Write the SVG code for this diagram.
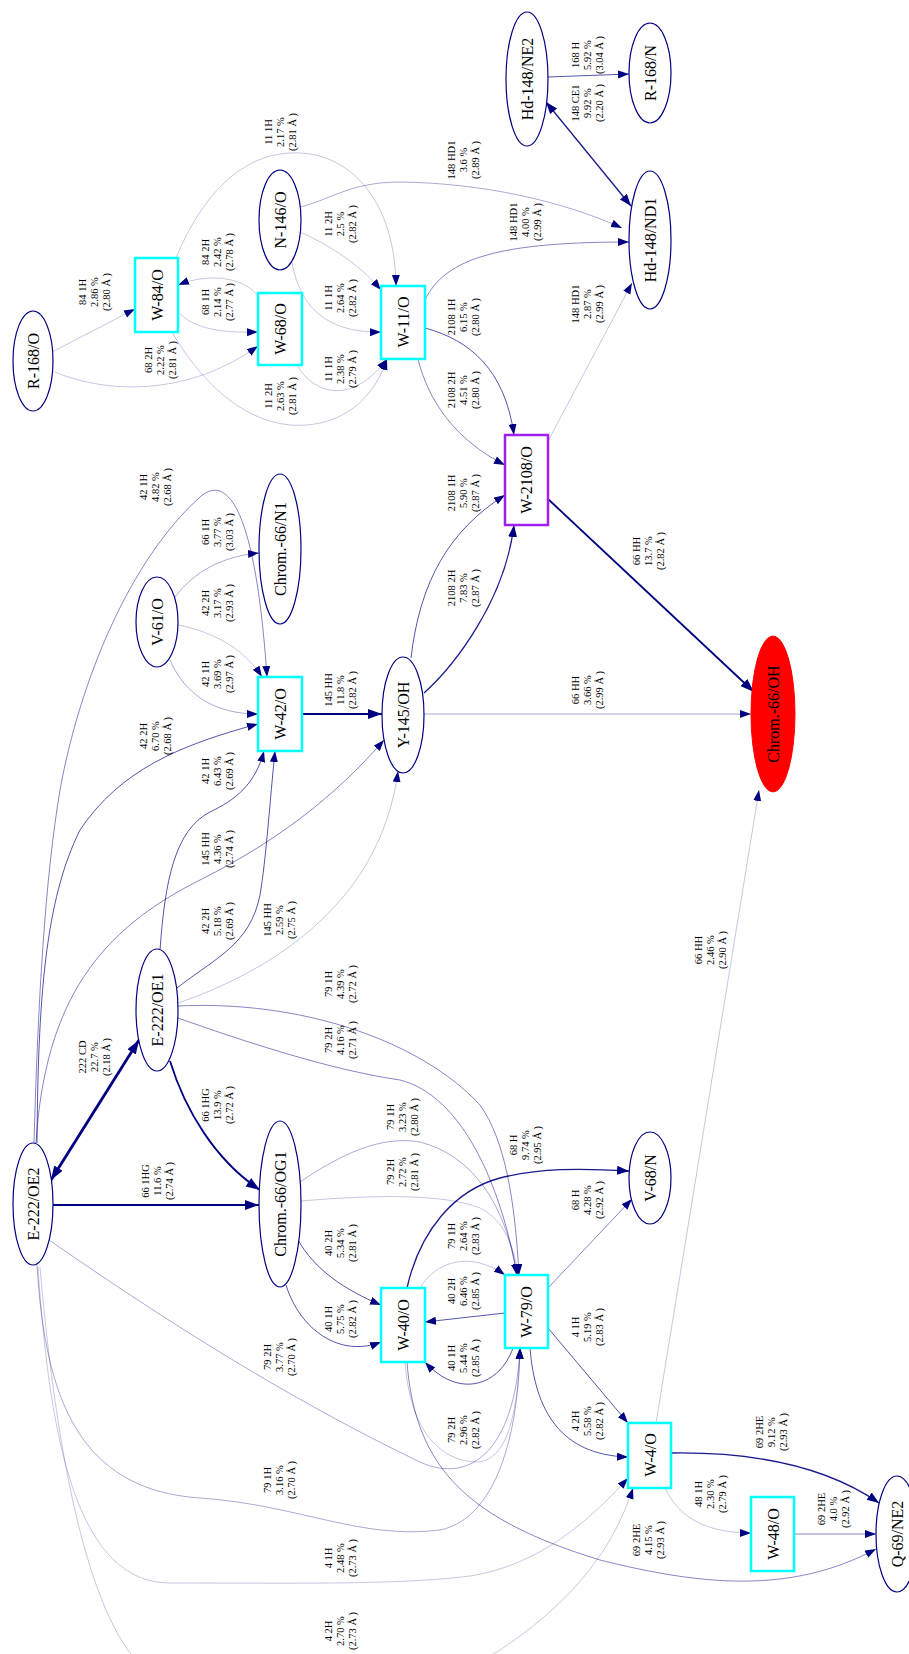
<svg xmlns="http://www.w3.org/2000/svg" width="909" height="1654" viewBox="0 0 909 1654">
<style>
.n{fill:#fff;stroke:#000080;stroke-width:1.2}
.b{fill:#fff;stroke:#00ffff;stroke-width:2.5}
.nt{font-family:"Liberation Serif","Times New Roman",serif;font-size:16px;text-anchor:middle;fill:#000}
.lt{font-family:"Liberation Serif","Times New Roman",serif;font-size:10.5px;text-anchor:middle;fill:#000}
.e{fill:none;stroke:#000080}
.w1{stroke-width:0.7;stroke-opacity:0.32;marker-end:url(#ma)}
.w2{stroke-width:0.75;stroke-opacity:0.45;marker-end:url(#ma)}
.w3{stroke-width:0.8;stroke-opacity:0.6;marker-end:url(#ma)}
.w4{stroke-width:0.9;stroke-opacity:0.75;marker-end:url(#ma)}
.w5{stroke-width:1.3;stroke-opacity:0.9;marker-end:url(#mm)}
.w6{stroke-width:1.8;stroke-opacity:1;marker-end:url(#mb)}
.w7{stroke-width:2.8;stroke-opacity:1;marker-end:url(#mb)}
</style>
<defs>
<marker id="ma" markerUnits="userSpaceOnUse" markerWidth="12" markerHeight="9" refX="11" refY="4" orient="auto"><path d="M0,0 L11,4 L0,8 z" fill="#000080"/></marker>
<marker id="mm" markerUnits="userSpaceOnUse" markerWidth="13" markerHeight="10" refX="12" refY="4.5" orient="auto-start-reverse"><path d="M0,0 L12,4.5 L0,9 z" fill="#000080"/></marker>
<marker id="mb" markerUnits="userSpaceOnUse" markerWidth="15" markerHeight="11" refX="14" refY="5" orient="auto-start-reverse"><path d="M0,0 L14,5 L0,10 z" fill="#000080"/></marker>
</defs>
<rect width="909" height="1654" fill="#fff"/>
<g id="edges">
<g><path class="e w1" d="M52,352 L135,309"/><text class="lt" transform="translate(77,292) rotate(-90)"><tspan x="0" y="8.5">84 1H</tspan><tspan x="0" y="20.8">2.86 %</tspan><tspan x="0" y="33">(2.80 Å )</tspan></text></g>
<g><path class="e w1" d="M55,372 C110,395 190,395 258,346"/><text class="lt" transform="translate(143,360) rotate(-90)"><tspan x="0" y="8.5">68 2H</tspan><tspan x="0" y="20.8">2.22 %</tspan><tspan x="0" y="33">(2.81 Å )</tspan></text></g>
<g><path class="e w1" d="M178,312 C195,330 225,333 258,332"/><text class="lt" transform="translate(200,302) rotate(-90)"><tspan x="0" y="8.5">68 1H</tspan><tspan x="0" y="20.8">2.14 %</tspan><tspan x="0" y="33">(2.77 Å )</tspan></text></g>
<g><path class="e w1" d="M258,296 C245,278 210,272 178,285"/><text class="lt" transform="translate(200,252) rotate(-90)"><tspan x="0" y="8.5">84 2H</tspan><tspan x="0" y="20.8">2.42 %</tspan><tspan x="0" y="33">(2.78 Å )</tspan></text></g>
<g><path class="e w1" d="M176,258 C200,200 240,150 300,153 C350,155 395,200 396,286"/><text class="lt" transform="translate(263,132) rotate(-90)"><tspan x="0" y="8.5">11 1H</tspan><tspan x="0" y="20.8">2.17 %</tspan><tspan x="0" y="33">(2.81 Å )</tspan></text></g>
<g><path class="e w1" d="M172,332 C200,380 240,420 290,425 C330,428 370,410 387,359"/><text class="lt" transform="translate(263,396) rotate(-90)"><tspan x="0" y="8.5">11 2H</tspan><tspan x="0" y="20.8">2.63 %</tspan><tspan x="0" y="33">(2.81 Å )</tspan></text></g>
<g><path class="e w1" d="M297,365 C312,392 350,408 387,359"/><text class="lt" transform="translate(323,369) rotate(-90)"><tspan x="0" y="8.5">11 1H</tspan><tspan x="0" y="20.8">2.38 %</tspan><tspan x="0" y="33">(2.79 Å )</tspan></text></g>
<g><path class="e w1" d="M300,232 C330,245 360,265 381,290"/><text class="lt" transform="translate(323,224) rotate(-90)"><tspan x="0" y="8.5">11 2H</tspan><tspan x="0" y="20.8">2.5 %</tspan><tspan x="0" y="33">(2.82 Å )</tspan></text></g>
<g><path class="e w1" d="M292,262 C300,310 330,333 381,332"/><text class="lt" transform="translate(323,298) rotate(-90)"><tspan x="0" y="8.5">11 1H</tspan><tspan x="0" y="20.8">2.64 %</tspan><tspan x="0" y="33">(2.82 Å )</tspan></text></g>
<g><path class="e w2" d="M300,207 C330,200 350,182 400,182 C480,183 560,200 622,228"/><text class="lt" transform="translate(446,160) rotate(-90)"><tspan x="0" y="8.5">148 HD1</tspan><tspan x="0" y="20.8">3.6 %</tspan><tspan x="0" y="33">(2.89 Å )</tspan></text></g>
<g><path class="e w3" d="M425,300 C445,258 500,242 629,242"/><text class="lt" transform="translate(508,222) rotate(-90)"><tspan x="0" y="8.5">148 HD1</tspan><tspan x="0" y="20.8">4.00 %</tspan><tspan x="0" y="33">(2.99 Å )</tspan></text></g>
<g><path class="e w1" d="M548,441 L632,283"/><text class="lt" transform="translate(570,304) rotate(-90)"><tspan x="0" y="8.5">148 HD1</tspan><tspan x="0" y="20.8">2.87 %</tspan><tspan x="0" y="33">(2.99 Å )</tspan></text></g>
<g><path class="e w5" style="marker-start:url(#mm)" d="M546,102 L631,206"/><text class="lt" transform="translate(570,103) rotate(-90)"><tspan x="0" y="8.5">148 CE1</tspan><tspan x="0" y="20.8">9.92 %</tspan><tspan x="0" y="33">(2.20 Å )</tspan></text></g>
<g><path class="e w4" d="M548,77 L629,74"/><text class="lt" transform="translate(570,55) rotate(-90)"><tspan x="0" y="8.5">168 H</tspan><tspan x="0" y="20.8">5.92 %</tspan><tspan x="0" y="33">(3.04 Å )</tspan></text></g>
<g><path class="e w4" d="M425,328 C470,340 505,370 514,435"/><text class="lt" transform="translate(446,317) rotate(-90)"><tspan x="0" y="8.5">2108 1H</tspan><tspan x="0" y="20.8">6.15 %</tspan><tspan x="0" y="33">(2.80 Å )</tspan></text></g>
<g><path class="e w3" d="M418,359 C428,400 455,440 505,465"/><text class="lt" transform="translate(446,390) rotate(-90)"><tspan x="0" y="8.5">2108 2H</tspan><tspan x="0" y="20.8">4.51 %</tspan><tspan x="0" y="33">(2.80 Å )</tspan></text></g>
<g><path class="e w4" d="M411,658 C420,580 450,530 505,495"/><text class="lt" transform="translate(446,493) rotate(-90)"><tspan x="0" y="8.5">2108 1H</tspan><tspan x="0" y="20.8">5.90 %</tspan><tspan x="0" y="33">(2.87 Å )</tspan></text></g>
<g><path class="e w5" d="M424,693 C455,665 505,600 514,525"/><text class="lt" transform="translate(446,588) rotate(-90)"><tspan x="0" y="8.5">2108 2H</tspan><tspan x="0" y="20.8">7.83 %</tspan><tspan x="0" y="33">(2.87 Å )</tspan></text></g>
<g><path class="e w6" d="M548,499 L754,692"/><text class="lt" transform="translate(631,551) rotate(-90)"><tspan x="0" y="8.5">66 HH</tspan><tspan x="0" y="20.8">13.7 %</tspan><tspan x="0" y="33">(2.82 Å )</tspan></text></g>
<g><path class="e w2" d="M424,714 L751,714"/><text class="lt" transform="translate(570,690) rotate(-90)"><tspan x="0" y="8.5">66 HH</tspan><tspan x="0" y="20.8">3.66 %</tspan><tspan x="0" y="33">(2.99 Å )</tspan></text></g>
<g><path class="e w6" d="M302,714 L382,714"/><text class="lt" transform="translate(323,690) rotate(-90)"><tspan x="0" y="8.5">145 HH</tspan><tspan x="0" y="20.8">11.8 %</tspan><tspan x="0" y="33">(2.82 Å )</tspan></text></g>
<g><path class="e w3" d="M36,1143 C45,1000 100,930 200,880 C290,835 345,785 384,740"/><text class="lt" transform="translate(200,849) rotate(-90)"><tspan x="0" y="8.5">145 HH</tspan><tspan x="0" y="20.8">4.36 %</tspan><tspan x="0" y="33">(2.74 Å )</tspan></text></g>
<g><path class="e w1" d="M178,1003 C260,975 380,910 398,771"/><text class="lt" transform="translate(262,920) rotate(-90)"><tspan x="0" y="8.5">145 HH</tspan><tspan x="0" y="20.8">2.59 %</tspan><tspan x="0" y="33">(2.75 Å )</tspan></text></g>
<g><path class="e w3" d="M34,1143 C38,1000 45,880 60,790 C80,680 130,560 200,497 C225,475 255,500 267,677"/><text class="lt" transform="translate(138,487) rotate(-90)"><tspan x="0" y="8.5">42 1H</tspan><tspan x="0" y="20.8">4.82 %</tspan><tspan x="0" y="33">(2.68 Å )</tspan></text></g>
<g><path class="e w4" d="M37,1143 C38,1000 45,900 80,830 C120,770 180,745 258,724"/><text class="lt" transform="translate(138,736) rotate(-90)"><tspan x="0" y="8.5">42 2H</tspan><tspan x="0" y="20.8">6.70 %</tspan><tspan x="0" y="33">(2.68 Å )</tspan></text></g>
<g><path class="e w1" d="M178,625 C215,632 245,650 262,677"/><text class="lt" transform="translate(200,603) rotate(-90)"><tspan x="0" y="8.5">42 2H</tspan><tspan x="0" y="20.8">3.17 %</tspan><tspan x="0" y="33">(2.93 Å )</tspan></text></g>
<g><path class="e w2" d="M170,660 C185,695 215,714 258,714"/><text class="lt" transform="translate(200,674) rotate(-90)"><tspan x="0" y="8.5">42 1H</tspan><tspan x="0" y="20.8">3.69 %</tspan><tspan x="0" y="33">(2.97 Å )</tspan></text></g>
<g><path class="e w2" d="M175,597 C195,570 225,556 259,553"/><text class="lt" transform="translate(200,532) rotate(-90)"><tspan x="0" y="8.5">66 1H</tspan><tspan x="0" y="20.8">3.77 %</tspan><tspan x="0" y="33">(3.03 Å )</tspan></text></g>
<g><path class="e w4" d="M160,950 C165,880 175,830 210,812 C235,800 255,785 264,751"/><text class="lt" transform="translate(200,771) rotate(-90)"><tspan x="0" y="8.5">42 1H</tspan><tspan x="0" y="20.8">6.43 %</tspan><tspan x="0" y="33">(2.69 Å )</tspan></text></g>
<g><path class="e w4" d="M177,988 C215,958 250,945 260,895 C266,860 270,800 275,751"/><text class="lt" transform="translate(200,921) rotate(-90)"><tspan x="0" y="8.5">42 2H</tspan><tspan x="0" y="20.8">5.18 %</tspan><tspan x="0" y="33">(2.69 Å )</tspan></text></g>
<g><path class="e w6" d="M170,1061 C185,1110 215,1160 260,1190"/><text class="lt" transform="translate(200,1105) rotate(-90)"><tspan x="0" y="8.5">66 1HG</tspan><tspan x="0" y="20.8">13.9 %</tspan><tspan x="0" y="33">(2.72 Å )</tspan></text></g>
<g><path class="e w6" d="M53,1205 L259,1205"/><text class="lt" transform="translate(140,1181) rotate(-90)"><tspan x="0" y="8.5">66 1HG</tspan><tspan x="0" y="20.8">11.6 %</tspan><tspan x="0" y="33">(2.74 Å )</tspan></text></g>
<g><path class="e w7" style="marker-start:url(#mb)" d="M51,1180 L139,1040"/><text class="lt" transform="translate(77,1057) rotate(-90)"><tspan x="0" y="8.5">222 CD</tspan><tspan x="0" y="20.8">22.7 %</tspan><tspan x="0" y="33">(2.18 Å )</tspan></text></g>
<g><path class="e w3" d="M178,1006 C300,1000 420,1040 480,1105 C505,1140 515,1200 519,1275"/><text class="lt" transform="translate(323,984) rotate(-90)"><tspan x="0" y="8.5">79 1H</tspan><tspan x="0" y="20.8">4.39 %</tspan><tspan x="0" y="33">(2.72 Å )</tspan></text></g>
<g><path class="e w3" d="M178,1018 C240,1040 330,1070 400,1080 C460,1095 500,1180 517,1275"/><text class="lt" transform="translate(323,1040) rotate(-90)"><tspan x="0" y="8.5">79 2H</tspan><tspan x="0" y="20.8">4.16 %</tspan><tspan x="0" y="33">(2.71 Å )</tspan></text></g>
<g><path class="e w2" d="M300,1182 C340,1155 380,1135 420,1142 C470,1155 505,1200 517,1275"/><text class="lt" transform="translate(385,1117) rotate(-90)"><tspan x="0" y="8.5">79 1H</tspan><tspan x="0" y="20.8">3.23 %</tspan><tspan x="0" y="33">(2.80 Å )</tspan></text></g>
<g><path class="e w1" d="M301,1201 C360,1196 440,1192 480,1208 C505,1220 515,1250 518,1275"/><text class="lt" transform="translate(385,1172) rotate(-90)"><tspan x="0" y="8.5">79 2H</tspan><tspan x="0" y="20.8">2.72 %</tspan><tspan x="0" y="33">(2.81 Å )</tspan></text></g>
<g><path class="e w4" d="M298,1240 C315,1270 345,1290 381,1305"/><text class="lt" transform="translate(323,1243) rotate(-90)"><tspan x="0" y="8.5">40 2H</tspan><tspan x="0" y="20.8">5.34 %</tspan><tspan x="0" y="33">(2.81 Å )</tspan></text></g>
<g><path class="e w4" d="M286,1285 C300,1330 340,1358 381,1342"/><text class="lt" transform="translate(323,1319) rotate(-90)"><tspan x="0" y="8.5">40 1H</tspan><tspan x="0" y="20.8">5.75 %</tspan><tspan x="0" y="33">(2.82 Å )</tspan></text></g>
<g><path class="e w5" d="M407,1288 C420,1230 455,1190 500,1178 C540,1168 580,1168 629,1171"/><text class="lt" transform="translate(508,1145) rotate(-90)"><tspan x="0" y="8.5">68 H</tspan><tspan x="0" y="20.8">9.74 %</tspan><tspan x="0" y="33">(2.95 Å )</tspan></text></g>
<g><path class="e w3" d="M548,1288 L632,1199"/><text class="lt" transform="translate(570,1200) rotate(-90)"><tspan x="0" y="8.5">68 H</tspan><tspan x="0" y="20.8">4.28 %</tspan><tspan x="0" y="33">(2.92 Å )</tspan></text></g>
<g><path class="e w1" d="M420,1288 C435,1262 470,1250 505,1275"/><text class="lt" transform="translate(446,1236) rotate(-90)"><tspan x="0" y="8.5">79 1H</tspan><tspan x="0" y="20.8">2.64 %</tspan><tspan x="0" y="33">(2.83 Å )</tspan></text></g>
<g><path class="e w4" d="M505,1313 L425,1322"/><text class="lt" transform="translate(446,1291) rotate(-90)"><tspan x="0" y="8.5">40 2H</tspan><tspan x="0" y="20.8">6.46 %</tspan><tspan x="0" y="33">(2.85 Å )</tspan></text></g>
<g><path class="e w4" d="M513,1348 C500,1385 460,1400 425,1362"/><text class="lt" transform="translate(446,1358) rotate(-90)"><tspan x="0" y="8.5">40 1H</tspan><tspan x="0" y="20.8">5.44 %</tspan><tspan x="0" y="33">(2.85 Å )</tspan></text></g>
<g><path class="e w1" d="M405,1362 C410,1430 440,1462 478,1462 C505,1460 518,1420 520,1348"/><text class="lt" transform="translate(446,1430) rotate(-90)"><tspan x="0" y="8.5">79 2H</tspan><tspan x="0" y="20.8">2.96 %</tspan><tspan x="0" y="33">(2.82 Å )</tspan></text></g>
<g><path class="e w2" d="M49,1240 C150,1310 280,1395 420,1462 C470,1485 515,1450 520,1348"/><text class="lt" transform="translate(262,1357) rotate(-90)"><tspan x="0" y="8.5">79 2H</tspan><tspan x="0" y="20.8">3.77 %</tspan><tspan x="0" y="33">(2.70 Å )</tspan></text></g>
<g><path class="e w2" d="M37,1265 C45,1400 80,1490 200,1498 C300,1505 360,1540 440,1530 C490,1520 518,1450 520,1348"/><text class="lt" transform="translate(262,1480) rotate(-90)"><tspan x="0" y="8.5">79 1H</tspan><tspan x="0" y="20.8">3.16 %</tspan><tspan x="0" y="33">(2.70 Å )</tspan></text></g>
<g><path class="e w1" d="M38,1267 C50,1450 80,1583 170,1583 C300,1583 400,1585 470,1576 C540,1565 590,1520 628,1478"/><text class="lt" transform="translate(323,1558) rotate(-90)"><tspan x="0" y="8.5">4 1H</tspan><tspan x="0" y="20.8">2.48 %</tspan><tspan x="0" y="33">(2.73 Å )</tspan></text></g>
<g><path class="e w1" d="M40,1267 C60,1500 100,1650 160,1680 C250,1710 420,1700 500,1650 C560,1610 610,1560 633,1488"/><text class="lt" transform="translate(323,1631) rotate(-90)"><tspan x="0" y="8.5">4 2H</tspan><tspan x="0" y="20.8">2.70 %</tspan><tspan x="0" y="33">(2.73 Å )</tspan></text></g>
<g><path class="e w3" d="M407,1362 C415,1470 470,1520 600,1560 C700,1585 790,1595 876,1549"/><text class="lt" transform="translate(631,1540) rotate(-90)"><tspan x="0" y="8.5">69 2HE</tspan><tspan x="0" y="20.8">4.15 %</tspan><tspan x="0" y="33">(2.93 Å )</tspan></text></g>
<g><path class="e w4" d="M548,1328 L628,1423"/><text class="lt" transform="translate(570,1327) rotate(-90)"><tspan x="0" y="8.5">4 1H</tspan><tspan x="0" y="20.8">5.19 %</tspan><tspan x="0" y="33">(2.83 Å )</tspan></text></g>
<g><path class="e w4" d="M530,1348 C535,1410 560,1455 628,1457"/><text class="lt" transform="translate(570,1421) rotate(-90)"><tspan x="0" y="8.5">4 2H</tspan><tspan x="0" y="20.8">5.58 %</tspan><tspan x="0" y="33">(2.82 Å )</tspan></text></g>
<g><path class="e w1" d="M656,1423 L759,790"/><text class="lt" transform="translate(693,950) rotate(-90)"><tspan x="0" y="8.5">66 HH</tspan><tspan x="0" y="20.8">2.46 %</tspan><tspan x="0" y="33">(2.90 Å )</tspan></text></g>
<g><path class="e w5" d="M671,1453 C740,1452 820,1462 879,1503"/><text class="lt" transform="translate(754,1432) rotate(-90)"><tspan x="0" y="8.5">69 2HE</tspan><tspan x="0" y="20.8">9.12 %</tspan><tspan x="0" y="33">(2.93 Å )</tspan></text></g>
<g><path class="e w1" d="M665,1488 C680,1520 710,1533 751,1533"/><text class="lt" transform="translate(693,1494) rotate(-90)"><tspan x="0" y="8.5">48 1H</tspan><tspan x="0" y="20.8">2.30 %</tspan><tspan x="0" y="33">(2.79 Å )</tspan></text></g>
<g><path class="e w3" d="M794,1534 L876,1534"/><text class="lt" transform="translate(816,1509) rotate(-90)"><tspan x="0" y="8.5">69 2HE</tspan><tspan x="0" y="20.8">4.0 %</tspan><tspan x="0" y="33">(2.92 Å )</tspan></text></g>
</g>
<g id="nodes">
<g id="R-168_O"><ellipse class="n" cx="33" cy="361" rx="20" ry="50"/><text class="nt" transform="translate(33,361) rotate(-90)" y="5.5">R-168/O</text></g>
<g id="W-84_O"><rect class="b" x="135" y="258" width="43" height="74"/><text class="nt" transform="translate(157,295) rotate(-90)" y="5.5">W-84/O</text></g>
<g id="W-68_O"><rect class="b" x="258" y="293" width="44" height="72"/><text class="nt" transform="translate(280,329) rotate(-90)" y="5.5">W-68/O</text></g>
<g id="N-146_O"><ellipse class="n" cx="280" cy="220" rx="21" ry="50"/><text class="nt" transform="translate(280,220) rotate(-90)" y="5.5">N-146/O</text></g>
<g id="W-11_O"><rect class="b" x="381" y="286" width="44" height="73"/><text class="nt" transform="translate(403,322) rotate(-90)" y="5.5">W-11/O</text></g>
<g id="Hd-148_NE2"><ellipse class="n" cx="527" cy="79" rx="21" ry="67"/><text class="nt" transform="translate(527,79) rotate(-90)" y="5.5">Hd-148/NE2</text></g>
<g id="R-168_N"><ellipse class="n" cx="650" cy="73" rx="21" ry="50"/><text class="nt" transform="translate(650,73) rotate(-90)" y="5.5">R-168/N</text></g>
<g id="Hd-148_ND1"><ellipse class="n" cx="650" cy="240" rx="21" ry="69"/><text class="nt" transform="translate(650,240) rotate(-90)" y="5.5">Hd-148/ND1</text></g>
<g id="V-61_O"><ellipse class="n" cx="157" cy="622" rx="21" ry="45"/><text class="nt" transform="translate(157,622) rotate(-90)" y="5.5">V-61/O</text></g>
<g id="Chrom-66_N1"><ellipse class="n" cx="280" cy="549" rx="21" ry="75"/><text class="nt" transform="translate(280,549) rotate(-90)" y="5.5">Chrom.-66/N1</text></g>
<g id="W-42_O"><rect class="b" x="258" y="677" width="44" height="74"/><text class="nt" transform="translate(280,714) rotate(-90)" y="5.5">W-42/O</text></g>
<g id="W-2108_O"><rect x="505" y="435" width="43" height="90" fill="#fff" stroke="#a020f0" stroke-width="2.5"/><text class="nt" transform="translate(526,480) rotate(-90)" y="5.5">W-2108/O</text></g>
<g id="Y-145_OH"><ellipse class="n" cx="403" cy="715" rx="21" ry="58"/><text class="nt" transform="translate(403,715) rotate(-90)" y="5.5">Y-145/OH</text></g>
<g id="Chrom-66_OH"><ellipse cx="773" cy="714" rx="22" ry="78" fill="#ff0000" stroke="#ff0000"/><text class="nt" transform="translate(773,714) rotate(-90)" y="5.5">Chrom.-66/OH</text></g>
<g id="E-222_OE1"><ellipse class="n" cx="157" cy="1010" rx="21" ry="61"/><text class="nt" transform="translate(157,1010) rotate(-90)" y="5.5">E-222/OE1</text></g>
<g id="E-222_OE2"><ellipse class="n" cx="33" cy="1204" rx="20" ry="61"/><text class="nt" transform="translate(33,1204) rotate(-90)" y="5.5">E-222/OE2</text></g>
<g id="Chrom-66_OG1"><ellipse class="n" cx="280" cy="1204" rx="21" ry="83"/><text class="nt" transform="translate(280,1204) rotate(-90)" y="5.5">Chrom.-66/OG1</text></g>
<g id="V-68_N"><ellipse class="n" cx="650" cy="1178" rx="21" ry="46"/><text class="nt" transform="translate(650,1178) rotate(-90)" y="5.5">V-68/N</text></g>
<g id="W-40_O"><rect class="b" x="381" y="1288" width="44" height="74"/><text class="nt" transform="translate(403,1325) rotate(-90)" y="5.5">W-40/O</text></g>
<g id="W-79_O"><rect class="b" x="505" y="1275" width="43" height="73"/><text class="nt" transform="translate(526,1312) rotate(-90)" y="5.5">W-79/O</text></g>
<g id="W-4_O"><rect class="b" x="628" y="1423" width="43" height="65"/><text class="nt" transform="translate(650,1455) rotate(-90)" y="5.5">W-4/O</text></g>
<g id="W-48_O"><rect class="b" x="751" y="1497" width="43" height="74"/><text class="nt" transform="translate(773,1534) rotate(-90)" y="5.5">W-48/O</text></g>
<g id="Q-69_NE2"><ellipse class="n" cx="897" cy="1534" rx="21" ry="58"/><text class="nt" transform="translate(897,1534) rotate(-90)" y="5.5">Q-69/NE2</text></g>
</g>
</svg>
